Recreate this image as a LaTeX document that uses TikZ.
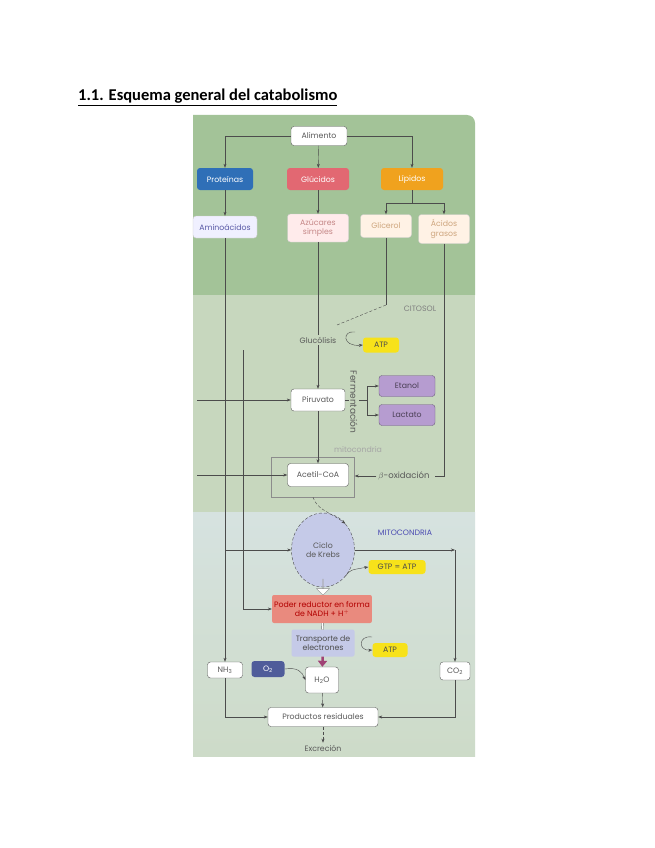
\documentclass[tikz,border=0pt]{standalone}
\usepackage{fontspec}
\setmainfont{Carlito}
\newfontfamily\esq{Poppins}
\usetikzlibrary{arrows.meta,shapes.geometric,shapes.arrows}
\definecolor{verdeA}{RGB}{163,195,152}
\definecolor{verdeB}{RGB}{199,215,190}
\definecolor{azulC}{RGB}{214,226,224}
\definecolor{verdeC}{RGB}{205,219,200}
\definecolor{azulP}{RGB}{47,111,183}
\definecolor{rojoG}{RGB}{226,104,114}
\definecolor{naranjaL}{RGB}{240,162,30}
\definecolor{amarillo}{RGB}{247,226,26}
\definecolor{morado}{RGB}{182,156,208}
\definecolor{lavanda}{RGB}{197,202,232}
\definecolor{salmon}{RGB}{233,138,126}
\definecolor{azulO}{RGB}{79,92,154}
\tikzset{
  texto/.style={font=\esq\fontsize{7.8}{9.5}\selectfont, text=black!65, align=center, inner sep=2pt},
  caja/.style={texto, draw=black!65, fill=white, rounded corners=3pt, minimum height=19pt},
  fuerte/.style={texto, rounded corners=3pt, minimum height=22pt, text=white},
  claro/.style={texto, draw=white!80!black, rounded corners=3pt, minimum height=22pt},
  amarilla/.style={texto, fill=amarillo, rounded corners=3pt, text=black!70},
  flecha/.style={-{Stealth[length=4pt,width=3pt]}, black!70},
  linea/.style={black!70}
}
\begin{document}
\begin{tikzpicture}[x=1pt,y=-1pt]
  \useasboundingbox (0,0) rectangle (655,848);
  \fill[white] (0,0) rectangle (655,848);
  \node[anchor=base west, inner sep=0pt, font=\bfseries\fontsize{16.5}{18}\selectfont] (titulo) at (78,101) {\underline{1.1. Esquema general del catabolismo}};
  \fill[verdeA] (193,295) -- (193,115) [rounded corners=8pt]-- (475,115) [sharp corners]-- (475,295) -- cycle;
  \fill[verdeB] (193,295) rectangle (475,512);
  \shade[top color=azulC, bottom color=verdeC] (193,512) rectangle (475,756);

  \node[caja, minimum width=56pt] (alimento) at (319,136) {Alimento};
  \node[fuerte, fill=azulP, minimum width=56pt] (proteinas) at (225,179) {Proteínas};
  \node[fuerte, fill=rojoG, minimum width=62pt] (glucidos) at (318,179) {Glúcidos};
  \node[fuerte, fill=naranjaL, minimum width=62pt] (lipidos) at (412,179) {Lípidos};
  \node[claro, fill=blue!6, text=blue!30!gray, minimum width=64pt] (aminoacidos) at (225,227) {Aminoácidos};
  \node[claro, fill=red!8, text=red!35!gray!70, minimum width=61pt, minimum height=28pt] (azucares) at (318,228) {Azúcares\\simples};
  \node[claro, fill=orange!10, text=orange!45!gray!70, minimum width=51pt, minimum height=23pt] (glicerol) at (386,226) {Glicerol};
  \node[claro, fill=orange!10, text=orange!45!gray!70, minimum width=51pt, minimum height=29pt] (acidos) at (444,229) {Ácidos\\grasos};
  \coordinate (rama) at (412,203);
  \draw[flecha] (alimento.west) -| (proteinas.north);
  \draw[flecha] (alimento.east) -| (lipidos.north);
  \draw[flecha] (alimento) -- (glucidos);
  \draw[flecha] (proteinas) -- (aminoacidos);
  \draw[flecha] (glucidos) -- (azucares);
  \draw[linea] (lipidos) -- (rama);
  \draw[flecha] (rama) -| (glicerol.north);
  \draw[flecha] (rama) -| (acidos.north);

  \node[texto, text=black!50] (citosol) at (420,309) {CITOSOL};
  \node[texto] (glucolisis) at (318,340) {Glucólisis};
  \node[amarilla, minimum width=36pt, minimum height=15pt] (atp1) at (381,345) {ATP};
  \coordinate (c1) at (355,332);
  \draw[flecha] (c1) .. controls (342,330) and (342,347) .. (atp1.west);
  \coordinate (quiebre) at (386,305);
  \coordinate (fin) at (337,325);
  \draw[linea] (glicerol) -- (quiebre);
  \draw[linea, densely dashed] (quiebre) -- (fin);
  \draw[linea] (azucares) -- (glucolisis);
  \node[caja, minimum width=54pt, minimum height=22pt] (piruvato) at (318,400) {Piruvato};
  \draw[flecha] (glucolisis) -- (piruvato);
  \node[caja, draw=morado!60!black, fill=morado, text=morado!40!black, minimum width=56pt, minimum height=21pt] (etanol) at (407,386) {Etanol};
  \node[caja, draw=morado!60!black, fill=morado, text=morado!40!black, minimum width=56pt, minimum height=21pt] (lactato) at (407,415) {Lactato};
  \coordinate (bif) at (367,400);
  \draw[linea] (piruvato) -- (bif);
  \draw[flecha] (bif) |- (etanol);
  \draw[flecha] (bif) |- (lactato);
  \node[texto, font=\esq\fontsize{9}{10}\selectfont, fill=verdeB, inner sep=1pt, rotate=-90] (fermentacion) at (354,402) {Fermentación};

  \node[texto, text=black!35] (mito1) at (358,450) {mitocondria};
  \node[draw=black!45, minimum width=83pt, minimum height=40pt] (marco) at (313,477) {};
  \node[caja, minimum width=61pt, minimum height=23pt] (acetil) at (318,475) {Acetil-CoA};
  \node[texto, font=\esq\fontsize{8.5}{10}\selectfont] (beta) at (404,476) {$\beta$-oxidación};
  \coordinate (bfin) at (435,476);
  \draw[linea] (acidos) |- (bfin);
  \draw[flecha] (beta) -- (marco.east |- beta);
  \coordinate (izq1) at (197,400);
  \coordinate (izq2) at (197,475);
  \draw[flecha] (izq1) -- (piruvato);
  \draw[flecha] (izq2) -- (acetil);
  \draw[flecha] (piruvato) -- (acetil);

  \node[ellipse, draw=black!70, densely dashed, fill=lavanda, texto, minimum width=63pt, minimum height=74pt] (krebs) at (323,550) {Ciclo\\de Krebs};
  \node[texto, text=blue!40!gray] (mito2) at (405,533) {MITOCONDRIA};
  \draw[flecha, densely dashed] (marco.south) .. controls (317,510) and (330,512) .. (krebs.north east);
  \coordinate (izq3) at (225,550);
  \draw[flecha] (izq3) -- (krebs);
  \coordinate (codo) at (455,550);
  \draw[flecha] (krebs.east) -- (codo);
  \node[amarilla, minimum width=57pt, minimum height=14pt] (gtp) at (397,567) {GTP = ATP};
  \draw[flecha] (krebs.south east) .. controls (350,570) .. (gtp.west);
  \node[single arrow, draw=black!45, fill=white, shape border rotate=270, minimum width=13pt, minimum height=16pt, single arrow head extend=6pt, inner sep=0pt] (bloque) at (323,587) {};
  \node[texto, fill=salmon, text=red!70!black, rounded corners=2pt, minimum width=99pt, minimum height=28pt] (poder) at (322,609) {Poder reductor en forma\\de NADH + H$^+$};
  \coordinate (v2a) at (243,350);
  \draw[flecha] (v2a) |- (poder);
  \node[texto, fill=lavanda, text=black!70, rounded corners=2pt, minimum width=63pt, minimum height=27pt] (transporte) at (323,643) {Transporte de\\electrones};
  \draw[black!60, double, double distance=1.5pt] (poder) -- (transporte);
  \node[amarilla, minimum width=35pt, minimum height=14pt] (atp2) at (390,650) {ATP};
  \coordinate (c2) at (372,637);
  \draw[flecha] (c2) .. controls (358,635) and (358,651) .. (atp2.west);
  \node[caja, minimum width=33pt, minimum height=26pt] (h2o) at (322,680) {H\textsubscript{2}O};
  \draw[-{Triangle[length=6pt,width=9pt]}, line width=2.5pt, magenta!60!black] (transporte) -- (h2o);
  \node[texto, fill=azulO, text=white, rounded corners=3pt, minimum width=33pt, minimum height=16pt] (o2) at (268,669) {O\textsubscript{2}};
  \draw[flecha] (o2.east) .. controls (298,667) and (302,672) .. (h2o.west);
  \node[caja, minimum width=35pt, minimum height=16pt] (nh3) at (225,670) {NH\textsubscript{3}};
  \node[caja, minimum width=30pt, minimum height=18pt] (co2) at (455,671) {CO\textsubscript{2}};
  \draw[flecha] (aminoacidos) -- (nh3);
  \draw[flecha] (codo) -- (co2);
  \node[caja, minimum width=110pt] (productos) at (323,717) {Productos residuales};
  \draw[flecha] (nh3) |- (productos);
  \draw[flecha] (co2) |- (productos);
  \draw[flecha] (h2o) -- (productos);
  \node[texto] (excrecion) at (323,748) {Excreción};
  \draw[flecha, densely dashed] (productos) -- (excrecion);
\end{tikzpicture}
\end{document}
